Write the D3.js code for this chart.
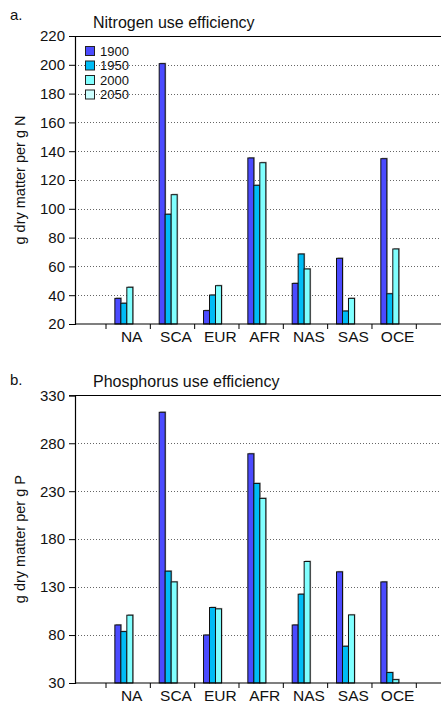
<!DOCTYPE html>
<html><head><meta charset="utf-8">
<script src="https://cdn.jsdelivr.net/npm/d3@7"></script>
<style>
body{margin:0;background:#fff;}
svg{display:block;font-family:"Liberation Sans",Arial,Helvetica,sans-serif;}
</style></head>
<body><svg id="c" width="441" height="705"></svg>
<script>
const categories = ["NA","SCA","EUR","AFR","NAS","SAS","OCE"];
const years = ["1900","1950","2000","2050"];
const colors = ["#4b4bff","#00bcf5","#80ffff","#ccffff"];

// Nitrogen use efficiency (g dry matter per g N)
const n1900 = [37.8, 200.8, 29.3, 135.3, 48.2, 65.6, 134.8];
const n1950 = [34.4, 96.2, 40.1, 116.3, 68.6, 29.0, 41.0];
const n2000 = [45.5, 109.8, 46.6, 132.0, 58.2, 37.8, 72.1];
const n2050 = [null, null, null, null, null, null, null];
const nTicks = [20,40,60,80,100,120,140,160,180,200,220];

// Phosphorus use efficiency (g dry matter per g P)
const p1900 = [90.5, 312.3, 80.0, 269.0, 90.5, 145.9, 135.4];
const p1950 = [83.6, 146.6, 108.7, 238.1, 122.6, 68.3, 40.9];
const p2000 = [100.7, 135.4, 107.3, 222.5, 156.7, 101.0, 33.5];
const p2050 = [null, null, null, null, null, null, null];
const pTicks = [30,80,130,180,230,280,330];

const svg = d3.select("#c");

function panel(opt){
  const g = svg.append("g");
  const x = d3.scaleBand().domain(categories).range([106, 416.3]).padding(0);
  const bw = x.bandwidth();
  const y = d3.scaleLinear().domain(opt.domain).range(opt.range);
  const left = 75, right = 441;
  const top = y(opt.domain[1]), bottom = y(opt.domain[0]);

  // gridlines
  g.selectAll(".grid").data(opt.ticks.slice(1, -1)).enter().append("line")
    .attr("x1", left).attr("x2", right)
    .attr("y1", d => Math.round(y(d)) + 0.5).attr("y2", d => Math.round(y(d)) + 0.5)
    .attr("stroke", "#666").attr("stroke-width", 1).attr("stroke-dasharray", "1,2");

  // bars
  const series = opt.series;
  series.forEach((vals, i) => {
    const data = categories.map((c, j) => ({c, v: vals[j]})).filter(d => d.v != null);
    const bx = d => x(d.c) + bw * 0.2 + i * bw * 0.135;
    const w = bw * 0.135;
    g.selectAll(".sh" + i).data(data).enter().append("rect")
      .attr("x", d => bx(d) + 1).attr("y", d => y(d.v) - 1)
      .attr("width", w).attr("height", d => bottom - y(d.v) + 1)
      .attr("fill", "#aaa");
    g.selectAll(".b" + i).data(data).enter().append("rect")
      .attr("x", d => bx(d)).attr("y", d => y(d.v))
      .attr("width", w).attr("height", d => bottom - y(d.v))
      .attr("fill", colors[i]).attr("stroke", "#111").attr("stroke-width", 1);
  });

  // top frame line
  g.append("line").attr("x1", left).attr("x2", right)
    .attr("y1", Math.round(top) + 0.5).attr("y2", Math.round(top) + 0.5)
    .attr("stroke", "#000").attr("stroke-width", 1.2);

  // y axis
  const ya = g.append("g").attr("transform", `translate(${left},0)`)
    .call(d3.axisLeft(y).tickValues(opt.ticks).tickSize(6).tickPadding(4).tickFormat(d3.format("d")));
  ya.select(".domain").attr("stroke", "#000").attr("stroke-width", 1.2);
  ya.selectAll("text").attr("font-size", 15).attr("fill", "#111")
    .attr("font-family", '"Liberation Sans",Arial,sans-serif');

  // x axis
  g.append("line").attr("x1", left).attr("x2", right)
    .attr("y1", bottom).attr("y2", bottom).attr("stroke", "#000").attr("stroke-width", 1.2);
  const bounds = categories.map(c => x(c)).concat([x(categories[categories.length-1]) + bw]);
  g.selectAll(".xt").data(bounds).enter().append("line")
    .attr("x1", d => d).attr("x2", d => d)
    .attr("y1", bottom).attr("y2", bottom + 5)
    .attr("stroke", "#000").attr("stroke-width", 1);
  g.selectAll(".xl").data(categories).enter().append("text")
    .attr("x", d => x(d) + bw / 2 + 3.5).attr("y", bottom + opt.labelDy)
    .attr("text-anchor", "middle").attr("font-size", 15.5).attr("fill", "#111")
    .text(d => d);

  // y title
  g.append("text")
    .attr("transform", `translate(25,${(top + bottom) / 2}) rotate(-90)`)
    .attr("text-anchor", "middle").attr("font-size", 14.5).attr("fill", "#111")
    .text(opt.ytitle);

  // panel letter + title
  g.append("text").attr("x", 10).attr("y", opt.letterY).attr("font-size", 15).attr("fill", "#111").text(opt.letter);
  g.append("text").attr("x", 93).attr("y", opt.titleY).attr("font-size", 16).attr("fill", "#111").text(opt.title);

  return g;
}

const ga = panel({
  domain: [20, 220], range: [324, 36], ticks: nTicks,
  series: [n1900, n1950, n2000, n2050],
  ytitle: "g dry matter per g N", letter: "a.", title: "Nitrogen use efficiency",
  letterY: 20, titleY: 28, labelDy: 18
});

const gb = panel({
  domain: [30, 330], range: [683, 395.3], ticks: pTicks,
  series: [p1900, p1950, p2000, p2050],
  ytitle: "g dry matter per g P", letter: "b.", title: "Phosphorus use efficiency",
  letterY: 385, titleY: 387, labelDy: 18
});

// legend (panel a)
const lg = svg.append("g");
years.forEach((yr, i) => {
  const cy = 51 + i * 14.5;
  lg.append("rect").attr("x", 85.5).attr("y", cy - 4.5).attr("width", 9).attr("height", 9)
    .attr("fill", colors[i]).attr("stroke", "#222").attr("stroke-width", 1);
  lg.append("text").attr("x", 100).attr("y", cy + 4.5).attr("font-size", 13).attr("fill", "#111").text(yr);
});
</script></body></html>
